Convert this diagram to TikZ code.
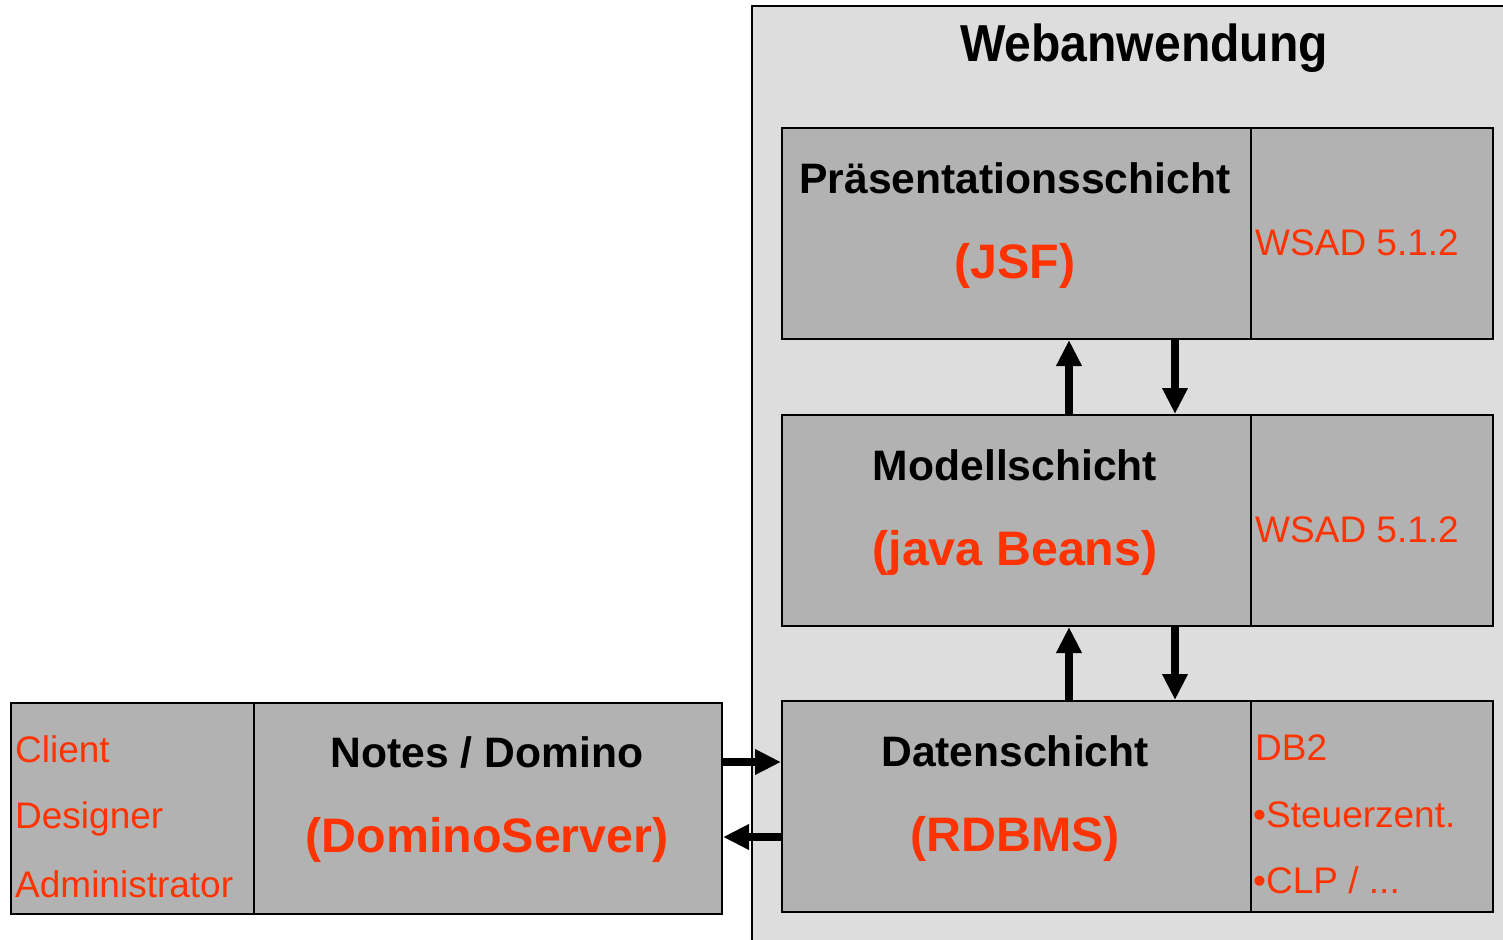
\documentclass[tikz,border=0pt]{standalone}
\usepackage{fontspec}
\setmainfont{Liberation Sans}
\usetikzlibrary{arrows.meta,calc}
\definecolor{outerfill}{RGB}{221,221,221}
\definecolor{boxfill}{RGB}{178,178,178}
\definecolor{redtxt}{RGB}{255,51,0}
\tikzset{
  layerbox/.style={draw=black, line width=2pt, fill=boxfill, inner sep=0pt, anchor=north west, minimum height=211pt},
  headtxt/.style={font=\fontsize{42.6}{42.6}\selectfont\bfseries, text=black, anchor=base, inner sep=0pt},
  subtxt/.style={font=\fontsize{48.4}{48.4}\selectfont\bfseries, text=redtxt, anchor=base, inner sep=0pt},
  sidetxt/.style={font=\fontsize{37}{37}\selectfont, text=redtxt, anchor=base west, inner sep=0pt},
  arr/.style={line width=8.5pt, -{Triangle[width=24pt,length=26pt]}},
}
\begin{document}
\begin{tikzpicture}[x=1pt,y=-1pt]
\useasboundingbox (0,0) rectangle (1503,939);
\begin{scope}
\clip (0,0) rectangle (1503,939);
\node[draw=black, line width=2pt, fill=outerfill, anchor=north west, minimum width=780pt, minimum height=960pt, inner sep=0pt] (web) at (751,5) {};
\end{scope}
\node[font=\fontsize{52}{52}\selectfont\bfseries, anchor=base, inner sep=0pt] (webtitle) at (1144,62) {\scalebox{0.925}[1]{Webanwendung}};

% Präsentationsschicht
\node[layerbox, minimum width=469pt] (pres) at (781,127) {};
\node[layerbox, minimum width=242pt] (presR) at (1250,127) {};
\node[headtxt] (presT) at (1015,193) {Präsentationsschicht};
\node[subtxt] (presS) at (1015,278) {(JSF)};
\node[sidetxt] (presW) at (1255,255) {WSAD 5.1.2};

% Modellschicht
\node[layerbox, minimum width=469pt] (mod) at (781,414) {};
\node[layerbox, minimum width=242pt] (modR) at (1250,414) {};
\node[headtxt] (modT) at (1015,480) {Modellschicht};
\node[subtxt] (modS) at (1015,565) {(java Beans)};
\node[sidetxt] (modW) at (1255,542) {WSAD 5.1.2};

% Datenschicht
\node[layerbox, minimum width=469pt] (dat) at (781,700) {};
\node[layerbox, minimum width=242pt] (datR) at (1250,700) {};
\node[headtxt] (datT) at (1015,766) {Datenschicht};
\node[subtxt] (datS) at (1015,851) {(RDBMS)};
\node[sidetxt] (db2) at (1255,760) {DB2};
\node[sidetxt] (steu) at (1253,827) {\textbullet Steuerzent.};
\node[sidetxt] (clp) at (1253,893) {\textbullet CLP / ...};

% Notes / Domino
\node[layerbox, minimum width=243pt] (notesL) at (10,702) {};
\node[layerbox, minimum width=468pt] (notes) at (253,702) {};
\node[headtxt] (notesT) at (487,767) {Notes / Domino};
\node[subtxt] (notesS) at (487,852) {(DominoServer)};
\node[sidetxt] (cli) at (15,762) {Client};
\node[sidetxt] (des) at (15,828) {Designer};
\node[sidetxt] (adm) at (15,897) {Administrator};

% vertical arrows
\draw[arr] ($(mod.north west)+(288,0)$) -- ($(pres.south west)+(288,0)$);
\draw[arr] ($(pres.south west)+(394,0)$) -- ($(mod.north west)+(394,0)$);
\draw[arr] ($(dat.north west)+(288,0)$) -- ($(mod.south west)+(288,0)$);
\draw[arr] ($(mod.south west)+(394,0)$) -- ($(dat.north west)+(394,0)$);

% horizontal arrows
\coordinate (r1) at ($(notes.north east)+(0,60)$);
\coordinate (r2) at ($(notes.north east)+(0,135)$);
\draw[arr] (r1) -- (r1 -| dat.west);
\draw[arr] (r2 -| dat.west) -- (r2);
\end{tikzpicture}
\end{document}
